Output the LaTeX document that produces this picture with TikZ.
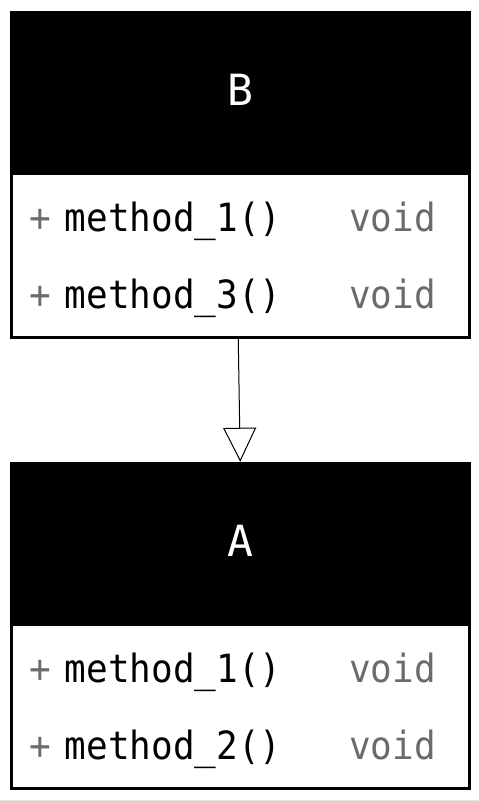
\documentclass[tikz,border=0pt]{standalone}
\usepackage{fontspec}
\usetikzlibrary{arrows.meta}
\newfontfamily\umlmono{DejaVu Sans Mono}
\definecolor{memgray}{HTML}{6B6B6B}
\definecolor{edgegray}{HTML}{E6E6E6}
\tikzset{
  classframe/.style={draw=black, line width=3pt, fill=none, minimum width=458.5pt, minimum height=325pt, inner sep=0pt},
  headbox/.style={fill=black, draw=none, minimum width=458.5pt, minimum height=163pt, inner sep=0pt},
  bodybox/.style={fill=white, draw=none, minimum width=458.5pt, minimum height=162pt, inner sep=0pt},
  titletext/.style={text=white, anchor=base, inner sep=0pt, font=\umlmono\fontsize{43}{48}\selectfont},
  plustext/.style={text=memgray, anchor=base west, inner sep=0pt, font=\umlmono\fontsize{36}{40}\selectfont},
  methtext/.style={text=black, anchor=base west, inner sep=0pt, font=\umlmono\fontsize{36}{40}\selectfont},
  typetext/.style={text=memgray, anchor=base west, inner sep=0pt, font=\umlmono\fontsize{36}{40}\selectfont},
  inherit/.style={draw=black, line width=1pt, -{Triangle[open, length=34pt, width=33pt, line width=1pt]}}
}
\newcommand{\vstr}[1]{\scalebox{1}[1.08]{#1}}
\begin{document}
\begin{tikzpicture}[x=1pt, y=-1pt]
  \useasboundingbox (0,0) rectangle (479,801);
  \fill[white] (0,0) rectangle (479,801);
  \draw[edgegray, line width=1pt] (0,800) -- (479,800);

  % Class B
  \node[headbox] (Bhead) at (240.25,93.5) {};
  \node[bodybox] (Bbody) at (240.25,256) {};
  \node[classframe] (Bframe) at (240.25,174.75) {};
  \node[titletext] (Btitle) at (240.5,105) {B};
  \node[plustext] (Bp1) at (29,231) {\vstr{+}};
  \node[methtext] (Bm1) at (64.5,231) {\vstr{method\_1()}};
  \node[typetext] (Bt1) at (349,231) {\vstr{void}};
  \node[plustext] (Bp2) at (29,308) {\vstr{+}};
  \node[methtext] (Bm2) at (64.5,308) {\vstr{method\_3()}};
  \node[typetext] (Bt2) at (349,308) {\vstr{void}};

  % Class A
  \node[headbox] (Ahead) at (240.25,544.5) {};
  \node[bodybox] (Abody) at (240.25,707) {};
  \node[classframe] (Aframe) at (240.25,625.75) {};
  \node[titletext] (Atitle) at (240.5,556) {A};
  \node[plustext] (Ap1) at (29,682) {\vstr{+}};
  \node[methtext] (Am1) at (64.5,682) {\vstr{method\_1()}};
  \node[typetext] (At1) at (349,682) {\vstr{void}};
  \node[plustext] (Ap2) at (29,759) {\vstr{+}};
  \node[methtext] (Am2) at (64.5,759) {\vstr{method\_2()}};
  \node[typetext] (At2) at (349,759) {\vstr{void}};

  % Inheritance
  \draw[inherit] ([xshift=-2pt]Bframe.south) -- (Aframe.north);
\end{tikzpicture}
\end{document}
